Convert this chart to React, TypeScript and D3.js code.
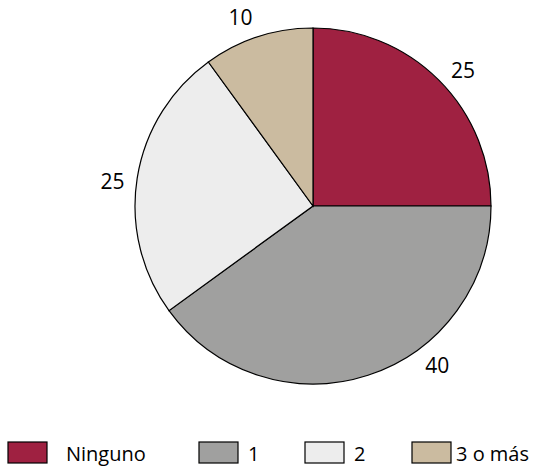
import * as React from "react"
import * as d3 from "d3"

const categories = ["Ninguno", "1", "2", "3 o más"]
const values = [25, 40, 25, 10]
const colors = ["#9f2141", "#a0a09f", "#ededed", "#cbbba0"]

const width = 539
const height = 466
const cx = 313
const cy = 206
const radius = 178
const labelRadius = 202
// Excel nudged the "40" label off its mid angle
const labelShift = [3, -20, -2, -3]
const legendBoxX = [8, 199, 305, 412]
const legendTextX = [66, 248, 354, 456]
const font = "'Open Sans', sans-serif"

export default function App(): React.JSX.Element {
  const pie = d3
    .pie<number>()
    .sort(null)
    .value((d) => d)
  const arcs = pie(values)
  const arc = d3.arc<d3.PieArcDatum<number>>().innerRadius(0).outerRadius(radius)

  return (
    <svg
      width={width}
      height={height}
      style={{ position: "absolute", left: 0, top: 0, background: "#fff" }}
    >
      <g transform={`translate(${cx},${cy})`}>
        {arcs.map((a, i) => (
          <path
            key={categories[i]}
            d={arc(a) || ""}
            fill={colors[i]}
            stroke="#000"
            strokeWidth={1.2}
          />
        ))}
        {arcs.map((a, i) => {
          const mid = (a.startAngle + a.endAngle) / 2 + (labelShift[i] * Math.PI) / 180
          const x = Math.sin(mid) * labelRadius
          const y = -Math.cos(mid) * labelRadius
          return (
            <text
              key={"l" + i}
              x={x}
              y={y}
              dy="0.36em"
              textAnchor="middle"
              fontFamily={font}
              fontSize={21}
              fill="#000"
            >
              {values[i]}
            </text>
          )
        })}
      </g>
      <g>
        {categories.map((c, i) => (
          <g key={"lg" + i}>
            <rect
              x={legendBoxX[i]}
              y={442}
              width={39}
              height={21}
              fill={colors[i]}
              stroke="#000"
              strokeWidth={1.2}
            />
            <text
              x={legendTextX[i]}
              y={461}
              fontFamily={font}
              fontSize={20}
              fill="#000"
            >
              {c}
            </text>
          </g>
        ))}
      </g>
    </svg>
  )
}
